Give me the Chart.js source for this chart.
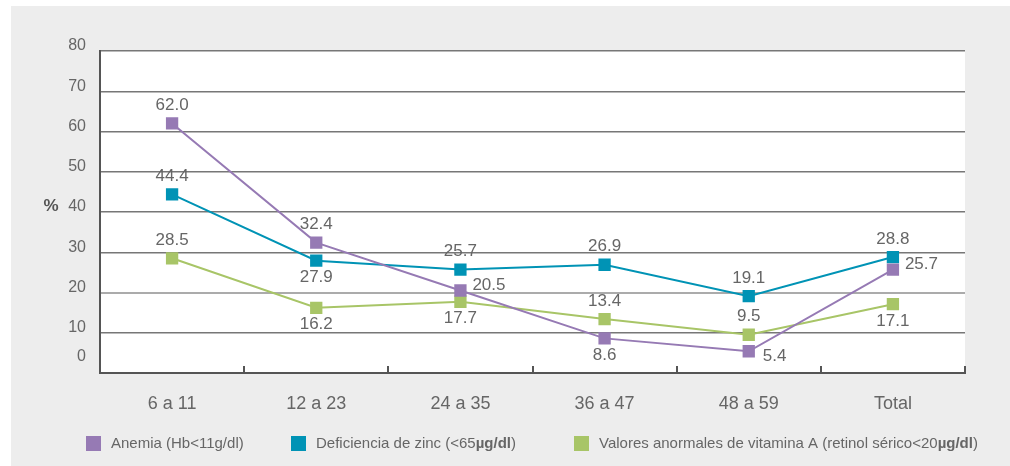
<!DOCTYPE html>
<html>
<head>
<meta charset="utf-8">
<script src="https://cdn.jsdelivr.net/npm/chart.js@4/dist/chart.umd.min.js"></script>
<style>
    html, body { margin: 0; padding: 0; background: #fff; }
    #panel { position: absolute; left: 11px; top: 6px; width: 999px; height: 460px; background: #ededed; }
    #chart { position: absolute; left: 0; top: 0; }
</style>
</head>
<body>
<div id="panel"></div>
<canvas id="chart" width="1010" height="466"></canvas>
<script>
const ageGroups = ['6 a 11', '12 a 23', '24 a 35', '36 a 47', '48 a 59', 'Total'];
const yTicks = [0, 10, 20, 30, 40, 50, 60, 70, 80];

const anemia = [62.0, 32.4, 20.5, 8.6, 5.4, 25.7];
const zinc = [44.4, 27.9, 25.7, 26.9, 19.1, 28.8];
const vitaminA = [28.5, 16.2, 17.7, 13.4, 9.5, 17.1];

const seriesLabels = [
    'Anemia (Hb<11g/dl)',
    'Deficiencia de zinc (<65µg/dl)',
    'Valores anormales de vitamina A (retinol sérico<20µg/dl)'
];

// where each value label sits relative to its marker
const anemiaLabelPos = ['top', 'top', 'right', 'bottom', 'bottomRight', 'right'];
const zincLabelPos = ['top', 'bottom', 'top', 'top', 'top', 'top'];
const vitaminALabelPos = ['top', 'bottom', 'bottom', 'top', 'top', 'bottom'];

const colors = ['#967ab4', '#0093b5', '#a8c567'];
const FONT = "'Liberation Sans', Arial, sans-serif";
const TEXT = '#666';

function series(label, data, color, labelPos) {
    return {
        label, data, labelPos,
        borderColor: color,
        backgroundColor: color,
        borderWidth: 2,
        tension: 0,
        pointStyle: 'rect',
        pointRadius: 8.7,
        pointHoverRadius: 8.7,
        pointBorderWidth: 0
    };
}

const plotBackground = {
    id: 'plotBackground',
    beforeDraw(chart) {
        const { ctx, chartArea: a } = chart;
        ctx.save();
        ctx.fillStyle = '#fff';
        ctx.fillRect(a.left, a.top, a.right - a.left, a.bottom - a.top);
        ctx.restore();
    }
};

const extras = {
    id: 'extras',
    afterDraw(chart) {
        const { ctx, chartArea: a } = chart;
        const x = chart.scales.x;
        const y = chart.scales.y;
        ctx.save();

        // category separators on the bottom axis
        ctx.strokeStyle = '#555';
        ctx.lineWidth = 2;
        for (let i = 0; i <= ageGroups.length; i++) {
            const px = Math.round(x.getPixelForValue(i - 0.5));
            ctx.beginPath();
            ctx.moveTo(px, a.bottom);
            ctx.lineTo(px, a.bottom - 7);
            ctx.stroke();
        }

        // zero label sits higher than the others
        ctx.fillStyle = TEXT;
        ctx.font = '16px ' + FONT;
        ctx.textAlign = 'right';
        ctx.textBaseline = 'middle';
        ctx.fillText('0', a.left - 14, y.getPixelForValue(0) - 16);

        // y-axis unit
        ctx.fillStyle = '#555';
        ctx.font = 'bold 17px ' + FONT;
        ctx.textAlign = 'center';
        ctx.fillText('%', 51, 206);

        // legend
        const legendX = [86, 291, 574];
        const ly = 444;
        chart.data.datasets.forEach((ds, i) => {
            ctx.fillStyle = ds.borderColor;
            ctx.fillRect(legendX[i], ly - 8, 15, 15);
            ctx.fillStyle = TEXT;
            ctx.textAlign = 'left';
            ctx.textBaseline = 'middle';
            const text = ds.label;
            const cut = text.indexOf('µg/dl');
            let tx = legendX[i] + 25;
            ctx.font = '15px ' + FONT;
            if (cut < 0) {
                ctx.fillText(text, tx, ly);
            } else {
                const head = text.slice(0, cut);
                ctx.fillText(head, tx, ly);
                tx += ctx.measureText(head).width;
                ctx.font = 'bold 15px ' + FONT;
                ctx.fillText('µg/dl', tx, ly);
                tx += ctx.measureText('µg/dl').width;
                ctx.font = '15px ' + FONT;
                ctx.fillText(text.slice(cut + 5), tx, ly);
            }
        });
        ctx.restore();
    },
    afterDatasetsDraw(chart) {
        const { ctx } = chart;
        ctx.save();
        ctx.fillStyle = TEXT;
        ctx.font = '17px ' + FONT;
        chart.data.datasets.forEach((ds, di) => {
            chart.getDatasetMeta(di).data.forEach((pt, i) => {
                const pos = ds.labelPos[i];
                const txt = ds.data[i].toFixed(1);
                let tx = pt.x, ty = pt.y;
                ctx.textAlign = 'center';
                ctx.textBaseline = 'middle';
                if (pos === 'top') ty -= 18;
                else if (pos === 'bottom') ty += 17;
                else if (pos === 'right') { tx += 12; ty -= 5; ctx.textAlign = 'left'; }
                else if (pos === 'bottomRight') { tx += 14; ty += 5; ctx.textAlign = 'left'; }
                ctx.fillText(txt, tx, ty);
            });
        });
        ctx.restore();
    }
};

new Chart(document.getElementById('chart'), {
    type: 'line',
    data: {
        labels: ageGroups,
        datasets: [
            series(seriesLabels[0], anemia, colors[0], anemiaLabelPos),
            series(seriesLabels[1], zinc, colors[1], zincLabelPos),
            series(seriesLabels[2], vitaminA, colors[2], vitaminALabelPos)
        ]
    },
    options: {
        responsive: false,
        animation: false,
        layout: { padding: { left: 0, top: 51, right: 45, bottom: 0 } },
        plugins: {
            legend: { display: false },
            tooltip: { enabled: false }
        },
        scales: {
            x: {
                offset: true,
                grid: { display: false, drawTicks: false },
                border: { color: '#555', width: 2 },
                ticks: {
                    color: TEXT,
                    font: { family: FONT, size: 18 },
                    padding: 20,
                    maxRotation: 0
                },
                afterFit: s => { s.height = 93; }
            },
            y: {
                min: 0,
                max: 80,
                afterBuildTicks: s => { s.ticks = yTicks.map(v => ({ value: v })); },
                grid: {
                    drawTicks: false,
                    lineWidth: c => (c.tick && c.tick.value === 20 ? 2 : 1.5),
                    color: c => {
                        if (!c.tick || c.tick.value === 0) return 'rgba(0,0,0,0)';
                        return c.tick.value === 20 ? '#ababab' : '#777';
                    }
                },
                border: { color: '#555', width: 2 },
                ticks: {
                    color: TEXT,
                    font: { family: FONT, size: 16 },
                    padding: 14,
                    labelOffset: -5,
                    callback: v => (v === 0 ? '' : v)
                },
                afterFit: s => { s.width = 100; }
            }
        }
    },
    plugins: [plotBackground, extras]
});
</script>
</body>
</html>
